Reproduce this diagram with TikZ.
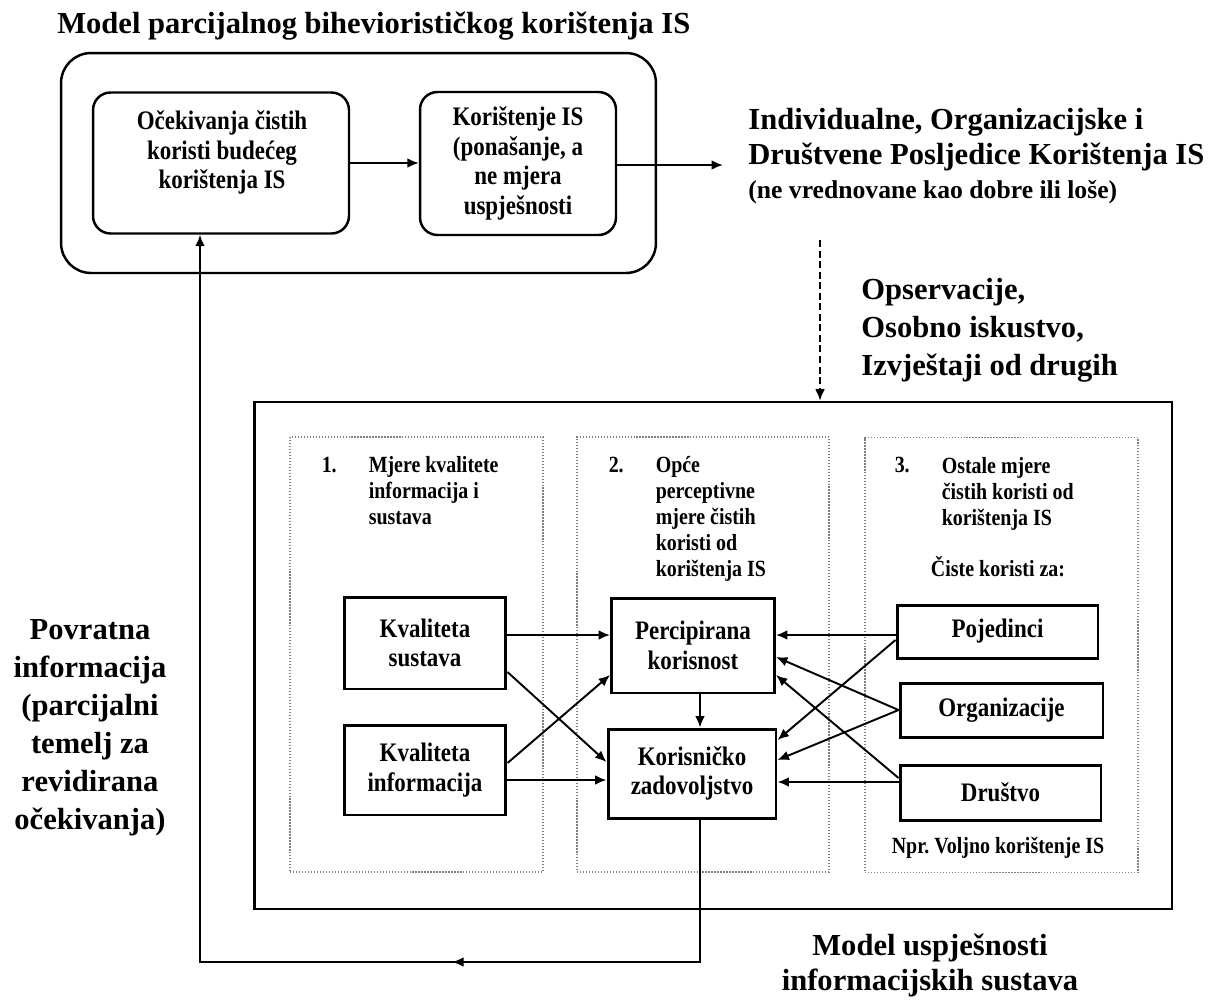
\documentclass[tikz,border=0pt]{standalone}
\usepackage{fontspec}
\setmainfont{Liberation Serif}
\newfontfamily\narrowserif[FakeStretch=0.86]{Liberation Serif}
\usepackage{tikz}
\usetikzlibrary{arrows.meta, decorations.markings, positioning}
\tikzset{>={Latex[length=6.5pt, width=5.5pt]}}
\newcommand*{\bigbf}[1]{\fontsize{17.4}{#1}\selectfont\bfseries}
\newcommand*{\boxbf}{\narrowserif\fontsize{15.2}{16.8}\selectfont\bfseries}
\newcommand*{\colbf}{\narrowserif\fontsize{13.2}{14.8}\selectfont\bfseries}
\newcommand*{\notebf}{\fontsize{14.6}{17}\selectfont\bfseries}

\begin{document}
\begin{tikzpicture}[x=0.02cm, y=-0.02cm,
    txt/.style={inner sep=0pt, align=center},
    rbox/.style={draw, line width=1.4pt, rounded corners=0.35cm, align=center, font=\boxbf},
    sbox/.style={draw, line width=1.7pt, align=center, font=\boxbf},
    col/.style={draw=gray, densely dotted, line width=0.7pt, minimum height=8.7cm},
    arr/.style={->, line width=1.1pt}]
    \useasboundingbox (0,0) rectangle (1216,1001);
    % behavioural model
    \node[txt, anchor=base west, font=\bigbf{19.9}] (toptitle) at (57,33) {Model parcijalnog biheviorističkog korištenja IS};
    \node[rbox, rounded corners=0.6cm, minimum width=11.9cm, minimum height=4.4cm] (topmodel) at (358.5,163) {};
    \node[rbox, minimum width=5.12cm, minimum height=2.82cm] (expbox) at (221,163) {};
    \node[txt, font=\boxbf] (exptext) at (222,152.5) {Očekivanja čistih\\koristi budećeg\\korištenja IS};
    \node[rbox, minimum width=3.92cm, minimum height=2.86cm] (use) at (518,163.5) {Korištenje IS\\(ponašanje, a\\ne mjera\\uspješnosti};
    \draw[arr](expbox)--(expbox -| use.west);
    \coordinate (conseqtip) at (723,165);
    \draw[arr](use.east |- conseqtip)--(conseqtip);
    \node[txt, anchor=west, align=left, font=\bigbf{19.9}] (conseq) at (748,139.5) {Individualne, Organizacijske i\\Društvene Posljedice Korištenja IS};
    \node[txt, anchor=west, font=\notebf] (conseqnote) at (748,192) {(ne vrednovane kao dobre ili loše)};
    % success model
    \node[draw, line width=1.6pt, minimum width=18.36cm, minimum height=10.14cm] (ismodel) at (713,655.5) {};
    \coordinate (obsstart) at (820,240);
    \draw[arr, dash pattern=on 4pt off 2pt, line width=0.9pt](obsstart)--(obsstart |- ismodel.north);
    \node[txt, anchor=west, align=left, font=\bigbf{21.6}] (obs) at (861,330) {Opservacije,\\Osobno iskustvo,\\Izvještaji od drugih};
    \node[col, minimum width=5.06cm] (col1) at (416.5,654.5) {};
    \node[col, minimum width=5.04cm] (col2) at (703,654.5) {};
    \node[col, minimum width=5.46cm] (col3) at (1001.5,655) {};
    \node[txt, align=left, font=\colbf, below right=0.4cm and 1.58cm of col1.north west] (head1) {Mjere kvalitete\\informacija i\\sustava};
    \node[txt, font=\colbf, anchor=north west] (num1) at ([xshift=-0.94cm]head1.north west) {1.};
    \node[txt, align=left, font=\colbf, below right=0.4cm and 1.58cm of col2.north west] (head2) {Opće\\perceptivne\\mjere čistih\\koristi od\\korištenja IS};
    \node[txt, font=\colbf, anchor=north west] (num2) at ([xshift=-0.94cm]head2.north west) {2.};
    \node[txt, align=left, font=\colbf, below right=0.4cm and 1.54cm of col3.north west] (head3) {Ostale mjere\\čistih koristi od\\korištenja IS};
    \node[txt, font=\colbf, anchor=north west] (num3) at ([xshift=-0.94cm]head3.north west) {3.};
    \node[txt, font=\colbf] (netfor) at (998,567) {Čiste koristi za:};
    \node[txt, font=\colbf] (example) at (998,848) {Npr.\ Voljno korištenje IS};
    \node[sbox, minimum width=3.24cm, minimum height=1.84cm] (sysq) at (425,643) {Kvaliteta\\sustava};
    \node[sbox, minimum width=3.24cm, minimum height=1.8cm] (infq) at (425,770) {Kvaliteta\\informacija};
    \node[sbox, minimum width=3.26cm, minimum height=1.9cm] (useful) at (693,645.5) {Percipirana\\korisnost};
    \node[sbox, minimum width=3.36cm, minimum height=1.78cm] (satisf) at (692,773.5) {Korisničko\\zadovoljstvo};
    \node[sbox, minimum width=4.02cm, minimum height=1.06cm] (indiv) at (997.5,631.5) {Pojedinci};
    \node[sbox, minimum width=4.06cm, minimum height=1.08cm] (org) at (1001.5,710) {Organizacije};
    \node[sbox, minimum width=4.02cm, minimum height=1.1cm] (soc) at (1000.5,792.5) {Društvo};
    \draw[arr]([yshift=0.16cm]sysq.east)--([yshift=0.16cm]sysq.east -| useful.west);
    \draw[arr]([yshift=-0.58cm]sysq.east)--([yshift=0.23cm]satisf.west);
    \draw[arr]([yshift=0.14cm]infq.east)--([yshift=-0.59cm]useful.west);
    \draw[arr]([yshift=-0.2cm]infq.east)--([yshift=-0.2cm]infq.east -| satisf.west);
    \draw[arr]([xshift=0.14cm]useful.south)--([xshift=0.14cm]useful.south |- satisf.north);
    \draw[arr]([yshift=-0.07cm]indiv.west)--([yshift=-0.07cm]indiv.west -| useful.east);
    \draw[arr]([yshift=-0.17cm]indiv.west)--([yshift=0.67cm]satisf.east);
    \draw[arr](org.west)--([yshift=-0.23cm]useful.east);
    \draw[arr](org.west)--([yshift=0.27cm]satisf.east);
    \draw[arr]([yshift=0.29cm]soc.west)--([yshift=-0.59cm]useful.east);
    \draw[arr]([yshift=0.21cm]soc.west)--([yshift=0.21cm]soc.west -| satisf.east);
    \node[txt, font=\bigbf{19.9}] (istitle) at (930,965.5) {Model uspješnosti\\informacijskih sustava};
    % feedback loop
    \coordinate (fbcorner) at (200,962);
    \draw[arr, postaction={decorate}, decoration={markings, mark=at position 0.285 with {\arrow{>}}}]([xshift=0.16cm]satisf.south)|-(fbcorner)--(fbcorner |- expbox.south);
    \node[txt, font=\bigbf{21.6}] (fbtext) at (90,728) {Povratna\\informacija\\(parcijalni\\temelj za\\revidirana\\očekivanja)};
\end{tikzpicture}
\end{document}
